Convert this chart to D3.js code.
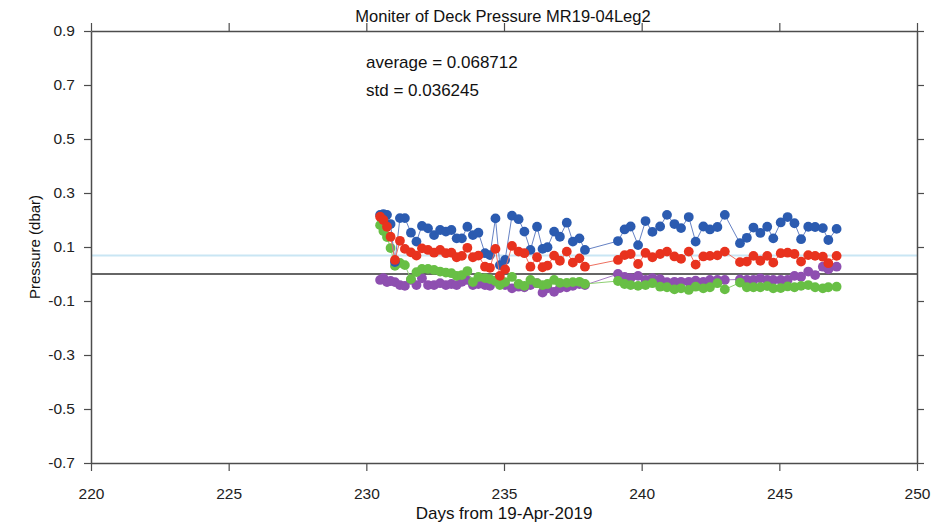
<!DOCTYPE html>
<html>
<head>
<meta charset="utf-8">
<script src="https://cdn.jsdelivr.net/npm/d3@7"></script>
<style>
  body { margin: 0; background: #fff; }
  svg { display: block; font-family: "Liberation Sans", Arial, sans-serif; }
</style>
</head>
<body>
<svg id="chart" width="945" height="526"></svg>
<script>
// Sample times (days from 19-Apr-2019)
const days = [
  230.50,230.62,230.75,230.88,231.04,231.22,231.40,231.62,231.82,232.02,
  232.24,232.46,232.68,232.89,233.09,233.28,233.47,233.67,233.87,234.07,
  234.31,234.49,234.69,234.85,235.04,235.29,235.53,235.74,235.96,236.20,
  236.40,236.58,236.82,237.03,237.28,237.50,237.74,237.94,
  239.14,239.38,239.60,239.87,240.14,240.39,240.67,240.92,241.19,241.43,
  241.71,241.96,242.24,242.48,242.75,243.02,243.57,243.82,244.06,244.31,
  244.56,244.78,245.05,245.30,245.55,245.79,246.05,246.30,246.58,246.78,247.08
];

// Deck pressure readings (dbar)
const pressureBlue = [
  0.219,0.222,0.219,0.185,0.044,0.207,0.207,0.153,0.120,0.178,
  0.169,0.144,0.163,0.157,0.163,0.132,0.132,0.175,0.144,0.153,
  0.077,0.070,0.206,0.033,0.052,0.216,0.203,0.157,0.089,0.175,
  0.093,0.099,0.157,0.138,0.190,0.120,0.132,0.089,
  0.122,0.165,0.176,0.107,0.196,0.156,0.176,0.219,0.185,0.170,
  0.211,0.120,0.176,0.165,0.174,0.219,0.114,0.134,0.172,0.152,
  0.175,0.132,0.191,0.211,0.188,0.129,0.175,0.174,0.170,0.126,0.167
];
const pressureRed = [
  0.212,0.200,0.175,0.138,0.052,0.123,0.093,0.080,0.068,0.095,
  0.089,0.079,0.089,0.077,0.079,0.062,0.067,0.097,0.062,0.068,
  0.027,0.023,0.093,-0.007,0.017,0.104,0.083,0.077,0.027,0.062,
  0.025,0.031,0.068,0.049,0.083,0.042,0.058,0.027,
  0.052,0.070,0.074,0.037,0.078,0.062,0.074,0.083,0.065,0.056,
  0.083,0.035,0.065,0.067,0.069,0.083,0.044,0.046,0.067,0.049,
  0.067,0.042,0.077,0.079,0.074,0.046,0.070,0.067,0.064,0.040,0.067
];
const pressureGreen = [
  0.181,0.159,0.137,0.096,0.030,0.041,0.033,-0.019,0.007,0.019,
  0.019,0.015,0.009,0.005,0.003,-0.007,-0.004,0.011,-0.030,-0.011,
  -0.015,-0.019,-0.026,-0.041,-0.030,-0.011,-0.037,-0.044,-0.022,-0.034,
  -0.041,-0.037,-0.022,-0.033,-0.033,-0.030,-0.029,-0.037,
  -0.026,-0.037,-0.041,-0.044,-0.041,-0.034,-0.047,-0.049,-0.057,-0.053,
  -0.059,-0.047,-0.053,-0.049,-0.034,-0.057,-0.032,-0.049,-0.049,-0.049,
  -0.045,-0.053,-0.052,-0.046,-0.049,-0.044,-0.041,-0.049,-0.053,-0.049,-0.047
];
const pressurePurple = [
  -0.022,-0.015,-0.030,-0.026,-0.030,-0.041,-0.044,-0.022,-0.041,-0.016,
  -0.041,-0.041,-0.034,-0.041,-0.037,-0.041,-0.029,-0.022,-0.041,-0.037,
  -0.041,-0.044,-0.025,-0.022,-0.041,-0.053,-0.047,-0.049,-0.041,-0.034,
  -0.069,-0.053,-0.066,-0.052,-0.049,-0.044,-0.037,-0.041,
  0.000,-0.011,-0.015,-0.007,-0.022,-0.015,-0.019,-0.030,-0.029,-0.029,
  -0.029,-0.025,-0.029,-0.022,-0.022,-0.022,-0.020,-0.022,-0.022,-0.016,
  -0.022,-0.022,-0.022,-0.022,-0.007,-0.010,0.009,-0.004,0.027,0.017,0.027
];

const xTicks = [220, 225, 230, 235, 240, 245, 250];
const yTicks = [-0.7, -0.5, -0.3, -0.1, 0.1, 0.3, 0.5, 0.7, 0.9];
const averageValue = 0.068712;
const stdValue = 0.036245;

// Drawing order (bottom to top) and colours
const seriesList = [
  { values: pressurePurple, dot: "#8e4fb0", line: "#a77cc4" },
  { values: pressureGreen,  dot: "#68bf45", line: "#8fd073" },
  { values: pressureBlue,   dot: "#2b5bb0", line: "#6682c4" },
  { values: pressureRed,    dot: "#e8321e", line: "#ee7060" }
];

const svg = d3.select("#chart");
const m = { left: 91, right: 917, top: 31, bottom: 463 };

const x = d3.scaleLinear().domain([220, 250]).range([m.left, m.right]);
const y = d3.scaleLinear().domain([-0.7, 0.9]).range([m.bottom, m.top]);

const axisColor = "#4d4d4d";
const fmtY = d => d.toFixed(1);

// Reference lines: mean and zero
svg.append("line")
  .attr("x1", m.left).attr("x2", m.right)
  .attr("y1", y(averageValue)).attr("y2", y(averageValue))
  .attr("stroke", "#c9e6f4").attr("stroke-width", 2);
svg.append("line")
  .attr("x1", m.left).attr("x2", m.right)
  .attr("y1", y(0)).attr("y2", y(0))
  .attr("stroke", "#666").attr("stroke-width", 2);

// Series lines and markers
const lineGen = d3.line().x((d, i) => x(days[i])).y(d => y(d));
seriesList.forEach(s => {
  const g = svg.append("g");
  g.append("path")
    .attr("d", lineGen(s.values))
    .attr("fill", "none")
    .attr("stroke", s.line)
    .attr("stroke-width", 1);
  g.selectAll("circle")
    .data(s.values)
    .join("circle")
    .attr("cx", (d, i) => x(days[i]))
    .attr("cy", d => y(d))
    .attr("r", 4.9)
    .attr("fill", s.dot);
});

// Axes
function styleAxis(g) {
  g.select(".domain").attr("stroke", axisColor).attr("stroke-width", 1.5);
  g.selectAll(".tick line").attr("stroke", axisColor).attr("stroke-width", 1.2);
  g.selectAll(".tick text").attr("fill", "#222").style("font-size", "15.5px")
    .style("font-family", "\"Liberation Sans\", Arial, sans-serif");
}

svg.append("g")
  .attr("transform", `translate(0,${m.bottom})`)
  .call(d3.axisBottom(x).tickValues(xTicks).tickSize(8).tickSizeOuter(0).tickPadding(17).tickFormat(d3.format("d")))
  .call(styleAxis);

svg.append("g")
  .attr("transform", `translate(0,${m.top})`)
  .call(d3.axisTop(x).tickValues(xTicks).tickSize(8).tickSizeOuter(0).tickFormat(""))
  .call(styleAxis);

svg.append("g")
  .attr("transform", `translate(${m.left},0)`)
  .call(d3.axisLeft(y).tickValues(yTicks).tickSize(7).tickSizeOuter(0).tickPadding(9).tickFormat(fmtY))
  .call(styleAxis);

svg.append("g")
  .attr("transform", `translate(${m.right},0)`)
  .call(d3.axisRight(y).tickValues(yTicks).tickSize(7).tickSizeOuter(0).tickFormat(""))
  .call(styleAxis);

// Title and labels
svg.append("text")
  .attr("x", 503).attr("y", 22)
  .attr("text-anchor", "middle")
  .attr("fill", "#111").style("font-size", "16.5px")
  .text("Moniter of Deck Pressure MR19-04Leg2");

svg.append("text")
  .attr("x", 504).attr("y", 519)
  .attr("text-anchor", "middle")
  .attr("fill", "#111").style("font-size", "17px")
  .text("Days from 19-Apr-2019");

svg.append("text")
  .attr("transform", "translate(40,247) rotate(-90)")
  .attr("text-anchor", "middle")
  .attr("fill", "#111").style("font-size", "15px")
  .text("Pressure (dbar)");

svg.append("text")
  .attr("x", 366).attr("y", 68)
  .attr("fill", "#111").style("font-size", "17px")
  .text("average = " + averageValue.toFixed(6));

svg.append("text")
  .attr("x", 366).attr("y", 96)
  .attr("fill", "#111").style("font-size", "17px")
  .text("std = " + stdValue.toFixed(6));
</script>
</body>
</html>
